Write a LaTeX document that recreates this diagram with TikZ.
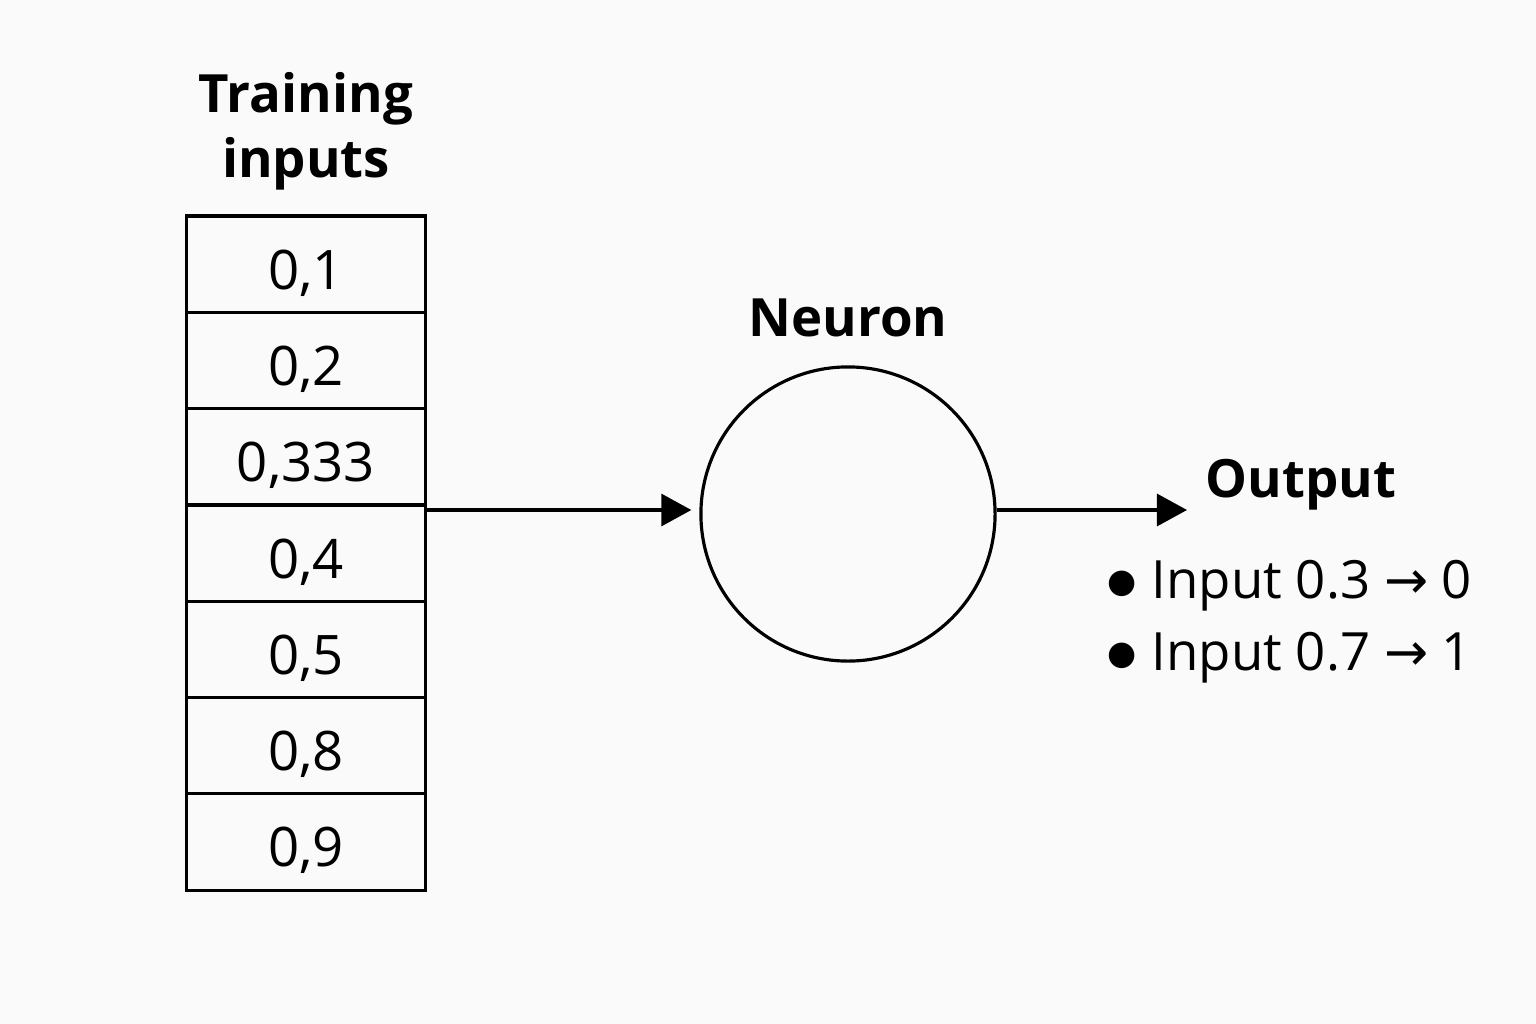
\documentclass[tikz,border=0pt]{standalone}
\usepackage{fontspec}
\setmainfont{Open Sans}
\newfontfamily\arrowfont{DejaVu Sans}
\usetikzlibrary{arrows.meta}
\definecolor{bggray}{HTML}{FAFAFA}
\newcommand{\dotmark}{\raisebox{0.06cm}{\arrowfont\fontsize{9.5}{12}\selectfont ●}\hspace{0.15cm}}

\begin{document}
\begin{tikzpicture}[x=0.01cm, y=-0.01cm,
    every node/.style={font=\fontsize{15.5}{18.5}\selectfont},
    cell/.style={draw, line width=0.9pt, minimum width=2.39cm, minimum height=0.963cm,
      inner sep=0pt, text height=0.5cm, text depth=0pt},
    title/.style={font=\fontsize{15}{18.5}\selectfont\bfseries, align=center},
    result/.style={anchor=base west, inner sep=0pt, font=\fontsize{15}{18}\selectfont},
    arr/.style={line width=0.9pt, -{Triangle[length=0.3cm, width=0.32cm]}}]
  % --- canvas (1536 x 1024 px, 1px = 0.01cm) ---
  \fill[bggray] (0,0) rectangle (1536,1024);
  \useasboundingbox (0,0) rectangle (1536,1024);

  % --- training inputs column ---
  \node[title] (train) at (306,131) {Training\\inputs};
  \foreach \v [count=\i] in {{0,1},{0,2},{0,333},{0,4},{0,5},{0,8},{0,9}}
    \node[cell] (c\i) at (306,{216+96.3*(\i-0.5)}) {\v};

  % --- neuron ---
  \node[circle, draw, line width=0.9pt, minimum size=2.94cm, inner sep=0pt] (neuron) at (848,514) {};
  \node[title] (neuronlbl) at (848,318) {Neuron};

  % --- arrows ---
  \coordinate (tabout) at (426,510);
  \draw[arr, shorten >=0.08cm] (tabout) -- (tabout -| neuron.west);
  \coordinate (outtip) at (1187,510);
  \draw[arr] (outtip -| neuron.east) -- (outtip);

  % --- output ---
  \node[title] (outlbl) at (1301,485) {Output};
  \node[result] (res1) at (1107,598) {\dotmark Input 0.3 {\arrowfont →} 0};
  \node[result] (res2) at (1107,670) {\dotmark Input 0.7 {\arrowfont →} 1};
\end{tikzpicture}
\end{document}
